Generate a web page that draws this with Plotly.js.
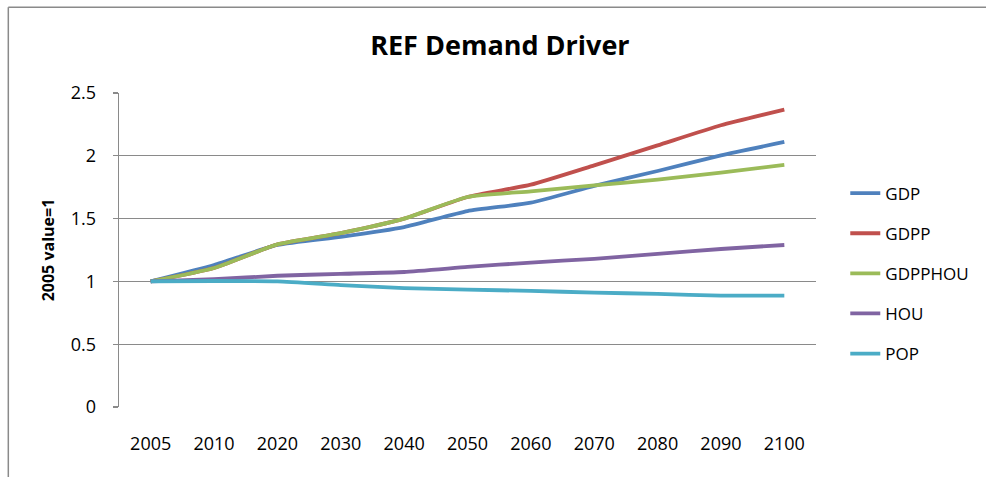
<!DOCTYPE html>
<html>
<head>
<meta charset="utf-8">
<script src="https://cdn.plot.ly/plotly-3.0.1.min.js"></script>
<style>
  html, body { margin: 0; padding: 0; background: #fff; }
  #chart { width: 986px; height: 477px; }
</style>
</head>
<body>
<div id="chart"></div>
<script>
const years = ['2005','2010','2020','2030','2040','2050','2060','2070','2080','2090','2100'];
const GDP      = [1, 1.13, 1.29, 1.355, 1.433, 1.56, 1.627, 1.76, 1.879, 2.004, 2.11];
const GDPP     = [1, 1.107, 1.295, 1.385, 1.5, 1.672, 1.77, 1.924, 2.083, 2.243, 2.368];
const GDPPHOU  = [1, 1.107, 1.295, 1.385, 1.5, 1.672, 1.717, 1.765, 1.81, 1.866, 1.927];
const HOU      = [1, 1.017, 1.045, 1.06, 1.075, 1.115, 1.15, 1.18, 1.22, 1.258, 1.29];
const POP      = [1, 1.003, 1.0, 0.971, 0.947, 0.935, 0.924, 0.911, 0.9, 0.887, 0.887];
const seriesNames = ['GDP','GDPP','GDPPHOU','HOU','POP'];
const seriesValues = [GDP, GDPP, GDPPHOU, HOU, POP];
const colors = ['#4F81BD','#C0504D','#9BBB59','#8064A2','#4BACC6'];

const font = '"Open Sans", "Liberation Sans", sans-serif';

const traces = seriesNames.map((n, i) => ({
  type: 'scatter',
  mode: 'lines',
  name: n,
  legendgroup: n,
  x: years,
  y: seriesValues[i],
  line: { color: colors[i], width: 3.8, shape: 'spline', smoothing: 0.5 }
}));

const layout = {
  width: 986,
  height: 477,
  margin: { l: 118.7, r: 170.3, t: 92.7, b: 70.3 },
  paper_bgcolor: '#fff',
  plot_bgcolor: '#fff',
  font: { family: font, color: '#000', size: 16 },
  title: {
    text: '<b>REF Demand Driver</b>',
    font: { family: font, size: 27, color: '#000' },
    x: 0.507, xref: 'container', xanchor: 'center',
    y: 0.905, yref: 'container', yanchor: 'middle'
  },
  xaxis: {
    type: 'category',
    range: [-0.5, 10.5],
    showgrid: false,
    zeroline: false,
    showline: false,
    ticks: '',
    tickfont: { family: font, size: 18, color: '#000' },
    ticklabelstandoff: 24,
    fixedrange: true
  },
  yaxis: {
    range: [0, 2.5],
    dtick: 0.5,
    tick0: 0,
    showgrid: true,
    gridcolor: '#8a8a8a',
    gridwidth: 1.3,
    zeroline: false,
    showline: true,
    linecolor: '#8a8a8a',
    linewidth: 1.3,
    ticks: 'outside',
    ticklen: 5,
    tickcolor: '#8a8a8a',
    tickwidth: 1.3,
    tickfont: { family: font, size: 18, color: '#000' },
    ticklabelstandoff: 13,
    title: {
      text: '<b>2005 value=1</b>',
      font: { family: font, size: 16, color: '#000' },
      standoff: 12
    },
    fixedrange: true
  },
  legend: {
    x: 1.042, xanchor: 'left',
    y: 0.737, yanchor: 'top',
    traceorder: 'grouped',
    tracegroupgap: 15,
    font: { family: font, size: 17, color: '#000' },
    bgcolor: 'rgba(0,0,0,0)',
    borderwidth: 0
  },
  shapes: [
    {
      type: 'line', xref: 'paper', yref: 'paper',
      x0: -0.1588, x1: -0.1588, y0: 1.2729, y1: -0.4,
      line: { color: '#8a8a8a', width: 1.5 }
    },
    {
      type: 'line', xref: 'paper', yref: 'paper',
      x0: -0.1588, x1: 1.4, y0: 1.2729, y1: 1.2729,
      line: { color: '#8a8a8a', width: 1.5 }
    }
  ],
  showlegend: true
};

Plotly.newPlot('chart', traces, layout, { displayModeBar: false, staticPlot: true });
</script>
</body>
</html>
